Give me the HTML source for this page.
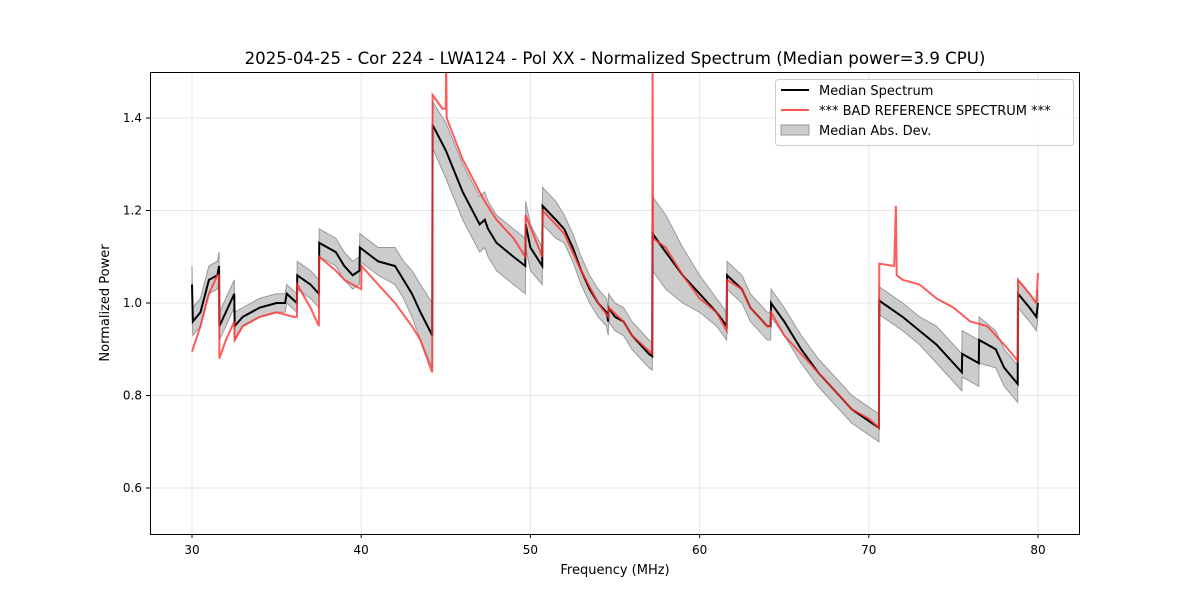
<!DOCTYPE html>
<html><head><meta charset="utf-8"><style>
body{margin:0;background:#fff;font-family:"Liberation Sans","DejaVu Sans",sans-serif;}
svg text{font-family:"DejaVu Sans","Liberation Sans",sans-serif;}
</style></head><body>
<svg id="chart" width="1200" height="600" xmlns="http://www.w3.org/2000/svg">
<rect width="1200" height="600" fill="#fff"/>
<text x="615" y="64" text-anchor="middle" font-size="16.6">2025-04-25 - Cor 224 - LWA124 - Pol XX - Normalized Spectrum (Median power=3.9 CPU)</text>
<g id="grid"></g><g id="band"></g><g id="lines"></g>
<rect x="150.5" y="72.5" width="929" height="462" fill="none" stroke="#000" stroke-width="1"/>
<g id="ticks"></g>
<text x="615" y="574" text-anchor="middle" font-size="13">Frequency (MHz)</text>
<text transform="translate(109,303) rotate(-90)" text-anchor="middle" font-size="13">Normalized Power</text>
<g>
<rect x="775.5" y="79.5" width="298" height="66" rx="3" fill="#fff" fill-opacity="0.8" stroke="#ccc"/>
<line x1="781" y1="90" x2="809" y2="90" stroke="#000" stroke-width="2"/>
<text x="819" y="95" font-size="13">Median Spectrum</text>
<line x1="781" y1="110" x2="809" y2="110" stroke="#f55" stroke-width="2"/>
<text x="819" y="115" font-size="13">*** BAD REFERENCE SPECTRUM ***</text>
<rect x="781" y="125" width="28" height="10" fill="#bbb" fill-opacity="0.75" stroke="#999"/>
<text x="819" y="135" font-size="13">Median Abs. Dev.</text>
</g>
</svg>
<script>
const xTicks=[30,40,50,60,70,80];
const yTicks=[0.6,0.8,1.0,1.2,1.4];
const medF=[30,30.05,30.5,31,31.5,31.6,31.62,32,32.5,32.52,33,34,35,35.5,35.6,36.2,36.22,37,37.5,37.52,38.5,39,39.5,39.9,39.92,41,42,42.5,43,43.5,44.2,44.22,45,46,47,47.3,47.5,48,49,49.7,49.72,50,50.7,50.72,51.5,52,52.5,53,53.5,54,54.5,54.6,54.62,55,55.5,56,57,57.2,57.22,58,59,60,61,61.6,61.62,62.5,63,64,64.2,64.22,65,66,67,68,69,70,70.6,70.62,72,73,74,75,75.5,75.52,76.5,76.52,77.5,78,78.8,78.82,79.5,79.9,80];
const medV=[1.04,0.96,0.98,1.05,1.06,1.08,0.95,0.98,1.02,0.95,0.97,0.99,1.0,1.0,1.02,1.0,1.06,1.04,1.02,1.13,1.11,1.08,1.06,1.07,1.12,1.09,1.08,1.05,1.02,0.98,0.93,1.385,1.33,1.24,1.17,1.18,1.16,1.13,1.1,1.08,1.17,1.12,1.08,1.21,1.18,1.16,1.12,1.07,1.03,1.0,0.98,0.96,0.99,0.97,0.96,0.93,0.89,0.885,1.15,1.11,1.06,1.02,0.98,0.95,1.06,1.03,0.99,0.95,0.95,1.0,0.96,0.9,0.85,0.81,0.77,0.745,0.73,1.005,0.97,0.94,0.91,0.87,0.85,0.89,0.87,0.92,0.9,0.86,0.825,1.02,0.99,0.97,1.0];
const madW=[0.04,0.03,0.03,0.03,0.03,0.03,0.03,0.03,0.03,0.03,0.02,0.02,0.02,0.02,0.02,0.02,0.03,0.03,0.03,0.03,0.03,0.03,0.03,0.03,0.03,0.03,0.04,0.04,0.05,0.06,0.07,0.05,0.06,0.06,0.06,0.06,0.06,0.06,0.06,0.06,0.05,0.05,0.04,0.04,0.04,0.03,0.03,0.03,0.03,0.03,0.03,0.03,0.03,0.03,0.03,0.03,0.03,0.03,0.08,0.08,0.06,0.04,0.03,0.03,0.03,0.03,0.03,0.03,0.03,0.03,0.03,0.03,0.03,0.03,0.03,0.03,0.03,0.03,0.03,0.03,0.04,0.04,0.04,0.05,0.05,0.05,0.04,0.04,0.04,0.03,0.03,0.03,0.03];
const redF=[30,30.5,31,31.5,31.6,31.62,32,32.5,32.52,33,34,35,36,36.2,36.22,37,37.5,37.52,38.5,39,39.5,40,40.02,41,42,43,43.5,44.2,44.22,44.8,45,45.02,45.05,46,47,47.3,48,49,49.7,49.72,50.7,50.72,51.5,52,53,54,54.6,54.62,55.5,56,57.2,57.22,57.25,58,59,60,61,61.6,61.62,62.5,63,64,64.2,64.22,65,66,67,68,69,70,70.6,70.62,71.5,71.6,71.65,72,73,74,75,76,77,78,78.8,78.82,79.5,79.9,80];
const redV=[0.895,0.95,1.02,1.06,1.06,0.88,0.92,0.96,0.92,0.95,0.97,0.98,0.97,0.97,1.04,0.99,0.95,1.1,1.07,1.05,1.04,1.03,1.08,1.04,1.0,0.95,0.92,0.85,1.45,1.42,1.42,1.55,1.4,1.31,1.24,1.22,1.18,1.14,1.1,1.19,1.1,1.2,1.17,1.15,1.07,1.0,0.97,0.99,0.96,0.93,0.89,1.55,1.14,1.12,1.06,1.01,0.98,0.94,1.05,1.03,0.99,0.95,0.95,0.98,0.93,0.89,0.85,0.81,0.77,0.75,0.73,1.085,1.08,1.21,1.06,1.05,1.04,1.01,0.99,0.96,0.95,0.91,0.875,1.05,1.02,1.0,1.065];
const X=f=>192+(f-30)*(1038-192)/50;
const Y=v=>118+(1.4-v)*370/0.8;
const NS='http://www.w3.org/2000/svg';
function mk(tag,attrs,parent){const e=document.createElementNS(NS,tag);for(const k in attrs)e.setAttribute(k,attrs[k]);parent.appendChild(e);return e;}
const g=document.getElementById('grid'),tk=document.getElementById('ticks');
xTicks.forEach(t=>{
 const l=mk('line',{x1:X(t),x2:X(t),y1:72,y2:534,stroke:'#e6e6e6'},g);
 
 
 mk('line',{x1:X(t),x2:X(t),y1:534,y2:538,stroke:'#000'},tk);
 const s=mk('text',{x:X(t),y:554,'text-anchor':'middle','font-size':'12'},tk);
 
 
 s.textContent=t;
});
yTicks.forEach(t=>{
 const l=mk('line',{x1:150,x2:1080,y1:Y(t),y2:Y(t),stroke:'#e6e6e6'},g);
 
 
 mk('line',{x1:146,x2:150,y1:Y(t),y2:Y(t),stroke:'#000'},tk);
 const s=mk('text',{x:142,y:Y(t)+4,'text-anchor':'end','font-size':'12'},tk);
 
 
 s.textContent=t.toFixed(1);
});
let up=medF.map((f,i)=>X(f)+','+Y(medV[i]+madW[i]));
let dn=medF.map((f,i)=>X(f)+','+Y(medV[i]-madW[i])).reverse();
const band=mk('polygon',{points:up.concat(dn).join(' '),fill:'#bbb','fill-opacity':'0.75',stroke:'#999','stroke-width':'1'},document.getElementById('band'));


const L=document.getElementById('lines');
const med=mk('polyline',{points:medF.map((f,i)=>X(f)+','+Y(medV[i])).join(' '),fill:'none',stroke:'#000','stroke-width':'2'},L);


const cp=mk('clipPath',{id:'clip'},L);mk('rect',{x:150,y:72,width:930,height:462},cp);
const red=mk('polyline',{points:redF.map((f,i)=>X(f)+','+Y(redV[i])).join(' '),fill:'none',stroke:'#f33','stroke-opacity':'0.8','stroke-width':'2','clip-path':'url(#clip)'},L);


</script>
</body></html>
